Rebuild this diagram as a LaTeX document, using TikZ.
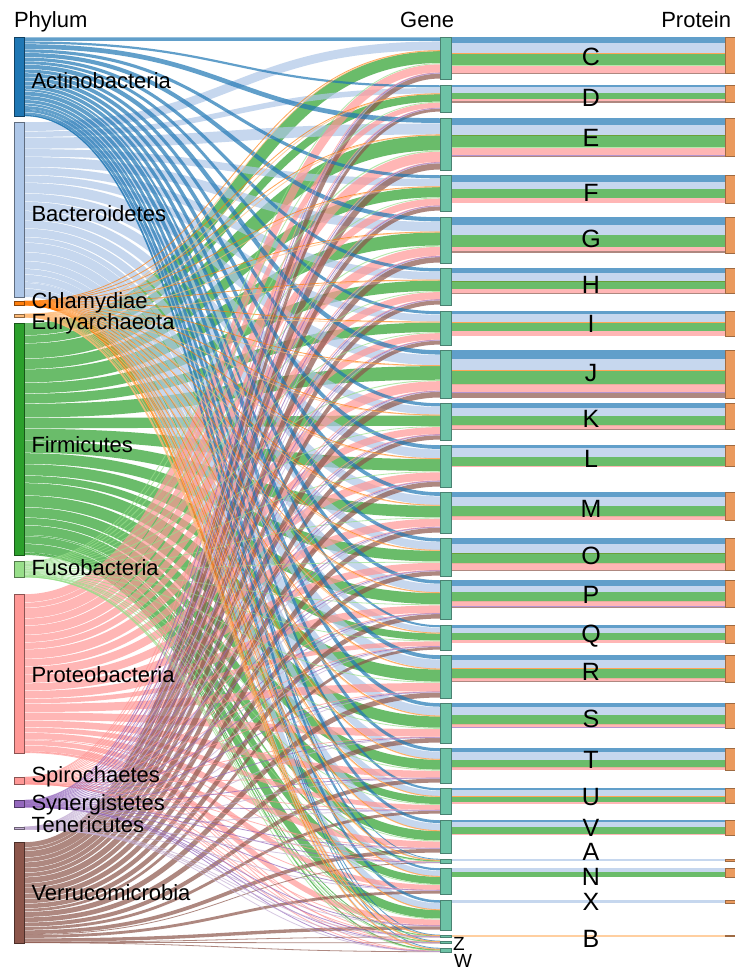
\documentclass[tikz,border=0pt]{standalone}
\usepackage{fontspec}
\setmainfont{Liberation Sans}
\pgfdeclarelayer{bg}
\pgfsetlayers{bg,main}
\definecolor{cAc}{HTML}{1F77B4}
\definecolor{cBa}{HTML}{AEC7E8}
\definecolor{cCh}{HTML}{FF7F0E}
\definecolor{cEu}{HTML}{FFBB78}
\definecolor{cFi}{HTML}{2CA02C}
\definecolor{cFu}{HTML}{98DF8A}
\definecolor{cPr}{HTML}{FF9896}
\definecolor{cSp}{HTML}{FF9896}
\definecolor{cSy}{HTML}{9467BD}
\definecolor{cTe}{HTML}{C5B0D5}
\definecolor{cVe}{HTML}{8C564B}
\colorlet{ph1}{cAc}\colorlet{ph2}{cBa}\colorlet{ph3}{cCh}\colorlet{ph4}{cEu}
\colorlet{ph5}{cFi}\colorlet{ph6}{cFu}\colorlet{ph7}{cPr}\colorlet{ph8}{cSp}
\colorlet{ph9}{cSy}\colorlet{ph10}{cTe}\colorlet{ph11}{cVe}
\definecolor{geneF}{HTML}{6DC2A6}
\definecolor{geneS}{HTML}{4A8272}
\definecolor{protF}{HTML}{EA9A5E}
\definecolor{protS}{HTML}{9E6A42}
\begin{document}
\begin{tikzpicture}[x=1pt,y=-1pt,
  phy/.style={draw=#1!55!black, fill=#1, line width=0.8pt, inner sep=0pt, outer sep=0pt, minimum width=10pt, anchor=north west},
  genebox/.style={draw=geneS, fill=geneF, line width=0.8pt, inner sep=0pt, outer sep=0pt, minimum width=11pt, anchor=north west},
  protbox/.style={draw=protS, fill=protF, line width=0.8pt, inner sep=0pt, outer sep=0pt, minimum width=10pt, anchor=north west},
  link/.style={draw opacity=0.7},
  lab/.style={font=\fontsize{22}{22}\selectfont, inner sep=0pt, outer sep=0pt},
  big/.style={font=\fontsize{25}{25}\selectfont, inner sep=0pt, outer sep=0pt, anchor=base},
  small/.style={font=\fontsize{19}{19}\selectfont, inner sep=0pt, outer sep=0pt, anchor=base west},
]
\useasboundingbox (0,0) rectangle (735,972);

% headers
\node[lab, anchor=base west] (hPhy) at (14,27) {Phylum};
\node[lab, anchor=base east] (hGene) at (454,27) {Gene};
\node[lab, anchor=base east] (hProt) at (731,27) {Protein};

% phylum nodes
\node[phy=cAc, minimum height=79pt] (pAc) at (14,37) {};
\node[phy=cBa, minimum height=175pt] (pBa) at (14,122) {};
\node[phy=cCh, minimum height=4pt] (pCh) at (14,301) {};
\node[phy=cEu, minimum height=3pt] (pEu) at (14,314) {};
\node[phy=cFi, minimum height=232pt] (pFi) at (14,323) {};
\node[phy=cFu, minimum height=16pt] (pFu) at (14,561) {};
\node[phy=cPr, minimum height=159pt] (pPr) at (14,594) {};
\node[phy=cSp, minimum height=7pt] (pSp) at (14,777) {};
\node[phy=cSy, minimum height=7pt] (pSy) at (14,800) {};
\node[phy=cTe, minimum height=2pt] (pTe) at (14,827) {};
\node[phy=cVe, minimum height=101pt] (pVe) at (14,842) {};

% phylum labels
\foreach \k/\t/\b in {Ac/Actinobacteria/88, Ba/Bacteroidetes/221, Ch/Chlamydiae/308,
  Eu/Euryarchaeota/329, Fi/Firmicutes/452, Fu/Fusobacteria/575, Pr/Proteobacteria/682,
  Sp/Spirochaetes/782, Sy/Synergistetes/810, Te/Tenericutes/832, Ve/Verrucomicrobia/900}
  \node[lab, anchor=base west] (t\k) at (31.5,\b) {\t};

% gene nodes
\foreach \gk/\gt/\gh in {C/37/42, D/85/27, E/118/52, F/175/36, G/217/46, H/268/37,
  I/311/34, J/350/48, K/403/37, L/445/42, M/492/41, O/538/38, P/580/39, Q/625/25,
  R/655/43, S/703/40, T/748/35, U/788/26, V/820/33, A/859/4, N/868/26, X/900/30,
  Z/935/2, Zb/941/2, W/948/4}
  \node[genebox, minimum height=\gh pt] (g\gk) at (440,\gt) {};

% protein nodes
\foreach \rk/\rt/\rh in {C/37/36.3, D/85/17.5, E/118/38, F/175/28, G/217/36.2,
  H/268/25.4, I/311/25, J/350/48, K/403/26.8, L/445/21.7, M/492/28, O/538/32,
  P/580/27, Q/625/18.3, R/655/27, S/703/25.2, T/748/21.9, U/788/15.7, V/820/15,
  A/859/2, N/868/9, X/900/3, B/935/1.5}
  \node[protbox, minimum height=\rh pt] (r\rk) at (725,\rt) {};

% protein letters
\foreach \k/\b in {C/65, D/106, E/146, F/201, G/247, H/293, I/332, J/381, K/427,
  L/467, M/517, O/564, P/603, Q/642, R/680, S/727, T/768, U/805, V/836, A/860,
  N/885, X/910, B/947}
  \node[big] (l\k) at (591,\b) {\k};
\node[small] (lZ) at (453,950) {Z};
\node[small] (lW) at (454,967) {W};

\begin{pgfonlayer}{bg}
\fill[white] (0,0) rectangle (735,972);
% phylum -> gene links (wider flows drawn first, thinner on top)
\foreach \pk/\ph/\pc in {Fi/232/261, Ba/175/79, Pr/159/509, Ve/101/684, Ac/79/0,
  Fu/16/493, Sp/7/668, Sy/7/675, Ch/4/254, Eu/3/258, Te/2/682}{
  \foreach \gk/\gh/\gc in {C/42/0, D/27/42, E/52/69, F/36/121, G/46/157, H/37/203,
    I/34/240, J/48/274, K/37/322, L/42/359, M/41/401, O/38/442, P/39/480, Q/25/519,
    R/43/544, S/40/587, T/35/627, U/26/662, V/33/688, A/4/721, N/26/725, X/30/751,
    Z/2/781, Zb/2/783, W/4/785}{
    \pgfmathsetmacro\w{\ph/789*\gh}
    \pgfmathsetmacro\wd{ifthenelse(\w>1.6,\w-0.5,max(\w,0.8))}
    \pgfmathsetmacro\sy{\ph/789*(\gc+\gh/2)}
    \pgfmathsetmacro\ty{\gh/789*(\pc+\ph/2)}
    \draw[link, draw=c\pk, line width=\wd pt]
      ([yshift=-\sy pt]p\pk.north east) .. controls +(208,0) and +(-208,0) ..
      ([yshift=-\ty pt]g\gk.north west);
  }
}
% gene -> protein links
\foreach \gk/\rk/\vals in {
  C/C/{6,10,0.8,0,11.5,0.5,7,0,0,0,0.5},
  D/D/{2.3,5.3,0,0,6.7,0,2,0,0,0,1.2},
  E/E/{6.7,10,0.6,0,11.5,0.7,7.7,0,0.3,0,0.5},
  F/F/{6.7,7.7,0,0,9,0,4.6,0,0,0,0},
  G/G/{8,10,0,0,11.7,0,4,0,0,0,2.5},
  H/H/{5,7.7,0.5,0,7.7,0,4,0,0,0,0.5},
  I/I/{3,8,0.5,0,8.5,0,5,0,0,0,0},
  J/J/{9.3,10.7,0.5,0,13,0.5,8,0,1,0,5},
  K/K/{5,7.7,0,0,9,0.3,4.3,0,0,0,0.5},
  L/L/{3.3,8.3,0,0,9.6,0,0.5,0,0,0,0},
  M/M/{5,9.3,0,0,9.7,0.3,3.7,0,0,0,0},
  O/O/{5.7,9.3,0.4,0,9.3,0.3,6.5,0,0,0,0.5},
  P/P/{6,5.7,0,0,9,0.5,4.3,0,1,0,0.5},
  Q/Q/{3.3,5,0,0,6.7,0,3.3,0,0,0,0},
  R/R/{5,8.3,0.5,0,9,0.3,3.3,0,0,0,0.6},
  S/S/{4.3,7.3,0,0,9,0.5,3.3,0,0.8,0,0},
  T/T/{4.3,7.3,0,0,7.3,0.3,2.7,0,0,0,0},
  U/U/{2.3,5.3,1.3,0,5.3,0,1.5,0,0,0,0},
  V/V/{2,5,0,0,7,0,1,0,0,0,0},
  A/A/{0,2,0,0,0,0,0,0,0,0,0},
  N/N/{0,4,0,0,5,0,0,0,0,0,0},
  X/X/{0,3,0,0,0,0,0,0,0,0,0},
  Z/B/{0,0,0,1.5,0,0,0,0,0,0,0}}{
  \gdef\acc{0}
  \foreach \v [count=\i] in \vals {
    \pgfmathsetmacro\cy{\acc+\v/2}
    \ifdim\v pt>0pt
      \draw[link, draw=ph\i, line width=\v pt]
        ([yshift=-\cy pt]g\gk.north east) -- ([yshift=-\cy pt]r\rk.north west);
    \fi
    \pgfmathsetmacro\nacc{\acc+\v}
    \global\let\acc\nacc
  }
}
\end{pgfonlayer}
\end{tikzpicture}
\end{document}
